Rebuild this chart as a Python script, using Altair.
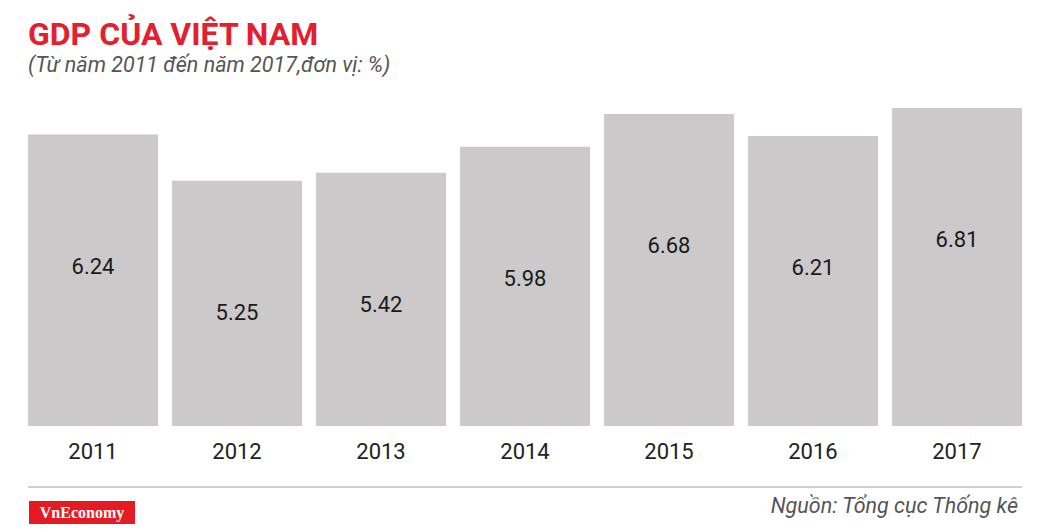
import altair as alt
import pandas as pd

years = ["2011", "2012", "2013", "2014", "2015", "2016", "2017"]
gdp = [6.24, 5.25, 5.42, 5.98, 6.68, 6.21, 6.81]

title_text = "GDP CỦA VIỆT NAM"
subtitle_text = "(Từ năm 2011 đến năm 2017,đơn vị: %)"
source_text = "Nguồn: Tổng cục Thống kê"
logo_text = "VnEconomy"

df = pd.DataFrame({"year": years, "gdp": gdp})
one = pd.DataFrame({"k": [0]})

W, H = 994, 327

x_enc = alt.X(
    "year:N",
    sort=years,
    scale=alt.Scale(paddingInner=0.097, paddingOuter=0),
    axis=alt.Axis(
        title=None, domain=False, ticks=False, labelAngle=0,
        labelFont="Roboto", labelFontSize=22, labelColor="#222222",
        labelBaseline="alphabetic", labelPadding=32,
    ),
)
y_enc = alt.Y("gdp:Q", scale=alt.Scale(domain=[0, 7], nice=False), axis=None)

bars = alt.Chart(df).mark_bar(color="#cbc9ca").encode(x=x_enc, y=y_enc)

values = alt.Chart(df).mark_text(
    font="Roboto", fontSize=22, color="#1a1a1a", baseline="middle", dy=132
).encode(x=alt.X("year:N", sort=years), y=alt.Y("gdp:Q"), text=alt.Text("gdp:Q", format=".2f"))

title = alt.Chart(one).mark_text(
    text=title_text, font="Roboto", fontSize=32, fontWeight="bold",
    color="#e4202e", align="left", baseline="alphabetic"
).encode(x=alt.value(0), y=alt.value(-54))

subtitle = alt.Chart(one).mark_text(
    text=subtitle_text, font="Roboto", fontSize=21.5, fontStyle="italic",
    color="#555555", align="left", baseline="alphabetic"
).encode(x=alt.value(0), y=alt.value(-27))

line = alt.Chart(one).mark_rule(color="#d0d0d0", strokeWidth=2).encode(
    x=alt.value(0), x2=alt.value(W), y=alt.value(388)
)

logo_box = alt.Chart(one).mark_rect(color="#e41b23").encode(
    x=alt.value(1), x2=alt.value(107), y=alt.value(402), y2=alt.value(425)
)
logo = alt.Chart(one).mark_text(
    text=logo_text, font="Liberation Serif", fontSize=16, fontWeight="bold",
    color="white", align="center", baseline="alphabetic"
).encode(x=alt.value(54), y=alt.value(419))

source = alt.Chart(one).mark_text(
    text=source_text, font="Roboto", fontSize=21.5, fontStyle="italic",
    color="#555555", align="right", baseline="alphabetic"
).encode(x=alt.value(990), y=alt.value(414))

chart = alt.layer(bars, values, title, subtitle, line, logo_box, logo, source).properties(
    width=W, height=H,
    background="white",
    autosize=alt.AutoSizeParams(type="none"),
    padding={"left": 20, "top": 91, "right": 10, "bottom": 98},
).configure_view(stroke=None, strokeWidth=0)

chart.save("out.html", embed_options={"renderer": "svg", "actions": False})
